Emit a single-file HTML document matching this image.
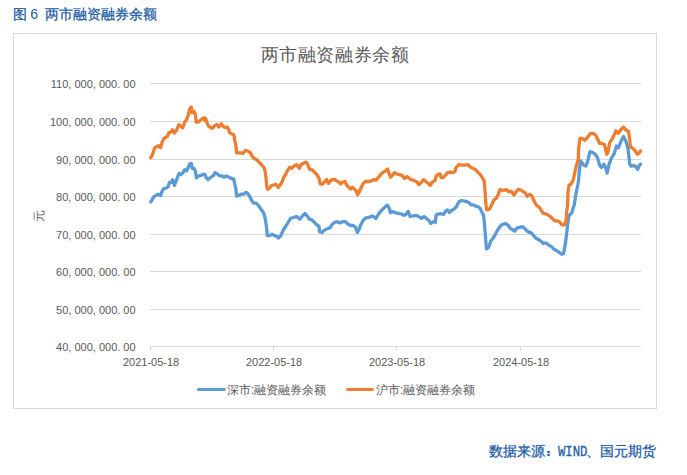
<!DOCTYPE html>
<html><head><meta charset="utf-8"><style>
html,body{margin:0;padding:0;background:#fff;width:687px;height:475px;overflow:hidden}
svg{display:block;font-family:"Liberation Sans",sans-serif}
</style></head><body>
<svg width="687" height="475" viewBox="0 0 687 475">
<g font-size="14" fill="#1f5ea8" stroke="#1f5ea8" stroke-width="0.3"><text x="13" y="19">图</text><text x="30.3" y="19" stroke-width="0">6</text><text x="45" y="19">两市融资融券余额</text></g>
<rect x="13.5" y="33.5" width="643" height="375" fill="#fff" stroke="#d9d9d9" stroke-width="1"/>
<text x="260.6" y="61" font-size="18" letter-spacing="0.6" fill="#595959">两市融资融券余额</text>
<g stroke="#d9d9d9" stroke-width="1"><line x1="150" y1="83.5" x2="641" y2="83.5"/><line x1="150" y1="121.5" x2="641" y2="121.5"/><line x1="150" y1="159.5" x2="641" y2="159.5"/><line x1="150" y1="196.5" x2="641" y2="196.5"/><line x1="150" y1="234.5" x2="641" y2="234.5"/><line x1="150" y1="271.5" x2="641" y2="271.5"/><line x1="150" y1="309.5" x2="641" y2="309.5"/><line x1="150" y1="346.5" x2="641" y2="346.5"/><line x1="150.5" y1="346" x2="150.5" y2="351"/><line x1="273.5" y1="346" x2="273.5" y2="351"/><line x1="396.5" y1="346" x2="396.5" y2="351"/><line x1="520.5" y1="346" x2="520.5" y2="351"/></g>
<g font-size="11" fill="#595959"><text x="135.6" y="87.5" text-anchor="end">110, 000, 000. 00</text><text x="135.6" y="125.5" text-anchor="end">100, 000, 000. 00</text><text x="135.6" y="163.5" text-anchor="end">90, 000, 000. 00</text><text x="135.6" y="200.5" text-anchor="end">80, 000, 000. 00</text><text x="135.6" y="238.5" text-anchor="end">70, 000, 000. 00</text><text x="135.6" y="275.5" text-anchor="end">60, 000, 000. 00</text><text x="135.6" y="313.5" text-anchor="end">50, 000, 000. 00</text><text x="135.6" y="350.5" text-anchor="end">40, 000, 000. 00</text></g>
<g font-size="11" fill="#595959"><text x="151.1" y="366" text-anchor="middle">2021-05-18</text><text x="274.1" y="366" text-anchor="middle">2022-05-18</text><text x="397.1" y="366" text-anchor="middle">2023-05-18</text><text x="521.1" y="366" text-anchor="middle">2024-05-18</text></g>
<text font-size="12" fill="#595959" transform="translate(42.7,215.5) rotate(-90)" text-anchor="middle">元</text>
<path d="M150.8,201.9 L152.4,199.4 L153.7,196.8 L155.6,195.6 L158.1,194.3 L160.6,195.6 L162.1,191.2 L163.8,188.6 L166.3,188.0 L168.2,186.7 L169.5,182.3 L171.4,182.3 L172.6,179.8 L174.5,185.5 L176.4,180.4 L178.9,173.5 L180.8,174.7 L182.7,172.8 L184.6,169.7 L186.5,170.9 L188.4,167.2 L189.7,164.0 L191.3,163.4 L192.2,168.4 L194.1,168.4 L195.4,170.9 L196.4,177.9 L198.5,176.0 L201.0,175.4 L203.6,174.1 L205.0,174.6 L206.3,177.8 L208.2,179.7 L210.7,177.2 L213.2,175.9 L215.1,172.7 L217.6,174.0 L219.5,175.9 L222.1,175.9 L223.9,177.2 L226.5,175.9 L229.0,177.2 L231.5,178.4 L233.8,179.1 L234.7,184.1 L235.9,188.5 L236.6,196.1 L238.5,195.5 L241.0,194.2 L243.5,194.2 L246.1,192.3 L247.9,193.6 L249.8,196.7 L251.7,200.5 L253.6,203.1 L256.2,203.1 L258.0,204.9 L259.9,207.5 L261.8,210.6 L262.0,210.3 L263.9,213.5 L265.2,218.5 L266.4,226.1 L267.3,235.6 L269.6,235.6 L272.1,234.3 L274.6,235.6 L276.5,236.2 L278.4,238.1 L280.9,235.6 L282.8,231.2 L285.4,226.7 L287.9,222.9 L290.4,218.5 L293.6,217.3 L296.7,216.6 L299.9,219.2 L302.4,216.0 L304.9,213.5 L306.8,215.4 L309.4,219.2 L311.9,219.8 L314.4,222.3 L317.6,225.5 L319.0,226.1 L319.6,231.8 L322.2,232.4 L324.7,229.9 L327.8,228.6 L330.4,227.4 L332.3,224.2 L334.8,222.3 L337.3,221.7 L339.8,222.9 L342.4,221.7 L345.5,221.7 L348.1,224.2 L350.6,225.5 L353.1,225.5 L355.6,227.4 L357.3,232.4 L358.8,229.9 L360.7,224.8 L363.2,220.4 L365.7,217.9 L368.9,217.3 L372.1,216.0 L374.6,217.3 L376.0,218.4 L378.5,214.0 L381.1,210.8 L383.6,208.3 L385.5,206.4 L387.4,205.2 L389.3,208.3 L390.5,212.7 L392.4,211.5 L394.9,212.7 L398.1,213.4 L401.3,214.0 L403.8,215.3 L405.7,214.6 L408.2,211.5 L410.1,216.5 L413.3,215.9 L416.4,215.3 L419.6,217.2 L421.5,218.4 L424.0,216.5 L426.5,218.4 L429.1,220.9 L430.9,223.5 L433.5,221.6 L435.4,222.2 L436.0,215.9 L436.8,214.4 L440.6,213.7 L443.7,214.4 L445.6,211.2 L447.5,209.9 L449.4,212.5 L451.3,210.6 L453.8,209.3 L456.4,206.8 L458.9,201.7 L461.4,200.5 L464.6,201.1 L467.1,201.7 L469.6,203.0 L470.9,204.9 L473.4,204.9 L475.9,206.2 L478.5,206.8 L480.4,208.7 L482.3,213.1 L483.5,215.0 L484.2,220.9 L485.4,235.7 L486.4,248.9 L488.5,247.5 L490.8,241.0 L492.8,238.5 L494.3,236.3 L496.5,232.0 L498.7,228.4 L501.4,225.0 L505.2,223.5 L508.3,225.4 L510.2,228.5 L512.1,229.2 L514.6,231.1 L517.2,227.9 L519.7,227.3 L522.2,226.6 L524.7,228.5 L527.3,231.1 L529.2,232.3 L530.0,232.2 L531.9,233.4 L533.8,235.9 L536.3,238.5 L538.8,239.7 L541.4,241.6 L543.3,243.5 L545.8,242.9 L548.3,244.8 L551.5,246.7 L554.0,249.2 L556.5,250.5 L559.1,252.4 L561.6,254.3 L563.5,253.6 L564.7,247.9 L566.0,239.1 L567.3,227.7 L568.5,217.6 L569.8,214.5 L571.7,213.2 L572.9,208.8 L574.2,205.0 L575.9,193.9 L577.8,185.1 L578.6,180.0 L579.2,172.1 L580.0,165.8 L580.5,161.0 L583.9,165.2 L585.8,166.1 L587.7,161.4 L590.0,151.6 L592.5,152.3 L595.7,154.8 L597.6,157.9 L599.5,164.9 L601.4,167.4 L603.9,164.3 L605.8,168.0 L607.1,173.1 L608.9,164.9 L611.5,157.9 L614.0,154.2 L616.5,146.0 L618.4,147.8 L620.9,141.5 L623.5,136.5 L626.0,141.5 L627.9,147.8 L629.8,164.3 L631.1,166.2 L633.6,165.6 L636.1,166.8 L637.7,169.3 L639.3,165.6 L640.5,164.3" fill="none" stroke="#5b9bd5" stroke-width="3.3" stroke-linejoin="round" stroke-linecap="round"/>
<path d="M150.8,157.6 L152.4,155.0 L153.7,150.6 L154.9,147.5 L156.8,146.8 L158.7,145.6 L160.6,147.5 L162.1,142.4 L163.8,138.6 L165.7,137.4 L167.6,136.1 L168.8,132.9 L170.7,132.3 L172.6,129.8 L174.5,132.9 L176.4,130.4 L178.9,124.7 L180.8,126.0 L182.7,127.9 L184.6,122.2 L186.5,119.7 L188.4,114.6 L189.7,108.9 L191.3,107.1 L192.2,112.7 L194.1,111.5 L195.4,114.6 L196.2,122.2 L197.9,122.2 L199.8,120.9 L201.7,119.1 L203.6,117.8 L204.8,120.3 L205.6,118.2 L206.9,122.6 L208.8,126.4 L210.7,127.6 L212.6,128.3 L214.5,125.7 L217.0,124.5 L218.9,127.0 L221.4,123.8 L223.3,126.4 L225.2,127.6 L227.1,127.0 L229.0,130.2 L229.6,132.7 L231.5,133.9 L233.8,134.6 L234.7,140.3 L235.9,145.3 L236.6,152.9 L238.5,152.9 L241.0,152.9 L242.9,153.5 L245.4,150.4 L247.9,151.0 L250.5,152.9 L252.4,156.7 L254.3,158.6 L256.2,159.2 L258.0,161.1 L260.6,163.6 L262.0,165.3 L263.9,167.2 L265.2,171.6 L266.0,177.9 L266.8,186.7 L267.7,189.3 L269.6,188.0 L271.5,185.5 L274.0,184.8 L275.9,184.2 L278.4,187.4 L280.3,184.8 L282.2,181.7 L283.5,177.9 L285.4,174.7 L287.3,170.9 L289.8,167.2 L291.7,168.4 L294.2,165.9 L296.7,164.6 L299.3,168.4 L300.5,165.3 L303.1,163.4 L306.0,162.1 L307.5,164.0 L309.4,169.1 L311.9,169.7 L314.4,172.2 L316.9,174.7 L318.8,177.9 L319.0,178.4 L320.3,184.0 L322.8,184.0 L324.7,181.5 L326.6,179.6 L328.5,183.4 L330.4,180.9 L332.3,179.6 L334.8,179.3 L336.7,180.9 L339.2,182.2 L340.5,184.0 L342.4,182.2 L344.9,181.5 L346.8,185.3 L348.7,187.2 L350.6,189.1 L352.5,187.2 L354.4,189.1 L356.3,191.0 L357.5,194.8 L359.4,191.6 L361.3,187.2 L363.2,183.4 L365.7,181.5 L368.9,181.5 L371.4,180.9 L373.9,179.6 L376.0,180.3 L378.5,177.2 L381.1,174.0 L383.6,172.1 L385.5,170.8 L387.4,168.9 L388.6,172.1 L390.5,177.2 L392.4,175.3 L394.3,172.7 L396.8,174.0 L399.4,174.6 L401.9,175.3 L404.4,178.4 L406.9,176.5 L408.8,177.8 L410.7,179.7 L413.9,180.3 L417.1,182.2 L418.9,184.7 L421.5,182.2 L423.7,179.7 L425.9,181.6 L428.4,183.5 L430.3,185.4 L432.2,182.2 L433.0,181.5 L434.9,180.9 L436.2,175.8 L438.1,174.6 L439.9,173.9 L441.2,177.7 L443.1,177.7 L445.6,175.2 L447.5,172.7 L450.1,172.1 L452.6,172.7 L455.1,171.4 L455.7,168.3 L457.6,165.7 L458.9,164.5 L461.4,165.1 L464.6,165.1 L467.7,164.5 L470.3,167.0 L472.8,168.3 L475.3,169.5 L477.8,172.1 L480.4,174.6 L482.3,177.7 L484.2,180.9 L484.8,187.8 L485.4,196.7 L486.0,205.5 L486.7,209.9 L489.2,209.3 L490.0,208.3 L491.9,204.5 L493.8,200.1 L496.3,198.2 L498.2,194.4 L500.1,189.4 L502.0,190.6 L504.5,190.0 L507.1,190.0 L508.9,191.9 L511.5,191.3 L514.0,195.1 L515.9,191.9 L518.4,189.4 L520.9,190.0 L523.5,191.9 L525.4,193.2 L527.3,196.3 L529.8,194.4 L531.7,195.7 L533.6,200.1 L536.3,205.0 L539.5,207.5 L541.4,210.7 L543.3,213.2 L545.8,213.8 L548.3,215.1 L550.8,217.0 L552.7,218.9 L554.6,220.8 L557.2,220.8 L559.7,222.1 L561.6,224.6 L564.1,225.2 L566.0,220.8 L566.6,212.6 L567.6,205.0 L568.0,192.6 L569.0,185.1 L570.9,184.4 L573.2,180.0 L574.7,173.0 L576.2,166.4 L577.5,162.0 L578.3,159.5 L578.6,150.0 L579.4,142.0 L580.0,138.4 L582.1,138.4 L584.6,140.3 L587.2,137.8 L590.0,133.9 L593.2,133.3 L595.7,135.2 L597.6,139.0 L599.5,143.4 L602.0,143.4 L604.5,144.7 L605.8,150.4 L606.8,154.2 L608.3,151.0 L609.6,142.8 L612.1,139.0 L614.0,135.2 L615.9,130.8 L618.4,133.3 L620.9,129.5 L623.5,127.0 L625.4,129.5 L628.5,131.4 L629.8,140.3 L630.4,147.2 L632.3,147.8 L634.8,150.4 L637.4,154.2 L639.3,152.9 L640.5,151.0" fill="none" stroke="#ed7d31" stroke-width="3.3" stroke-linejoin="round" stroke-linecap="round"/>
<line x1="198.4" y1="389.5" x2="224.4" y2="389.5" stroke="#5b9bd5" stroke-width="2.9" stroke-linecap="round"/>
<text x="227" y="393.6" font-size="12" fill="#595959">深市:融资融券余额</text>
<line x1="347.5" y1="389.5" x2="372.5" y2="389.5" stroke="#ed7d31" stroke-width="2.9" stroke-linecap="round"/>
<text x="376" y="393.6" font-size="12" fill="#595959">沪市:融资融券余额</text>
<g font-size="14" fill="#1f5ea8" stroke="#1f5ea8" stroke-width="0.3"><text x="489" y="456">数据来源</text><rect x="547.4" y="450.9" width="2.3" height="2.2" stroke-width="0"/><rect x="547.4" y="453.9" width="2.3" height="2.2" stroke-width="0"/><text x="558" y="455.8" font-family="Liberation Mono" stroke-width="0.3" textLength="29.5" lengthAdjust="spacingAndGlyphs">WIND</text><text x="585.6" y="456">、国元期货</text></g>
</svg>
</body></html>
